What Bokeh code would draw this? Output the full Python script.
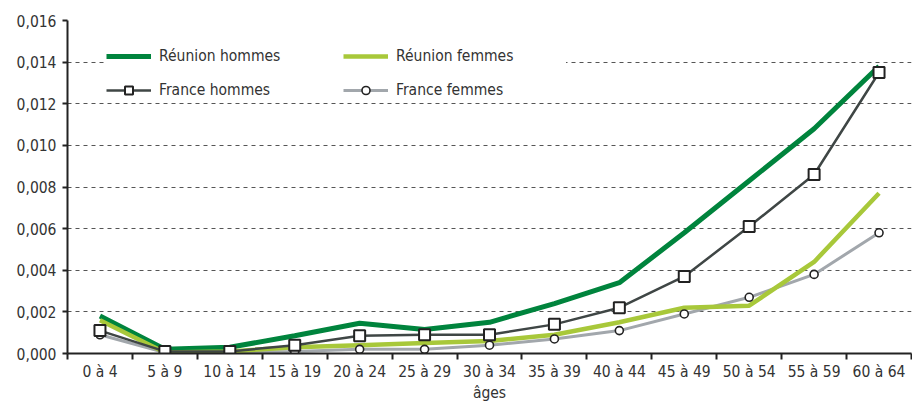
from bokeh.plotting import figure
from bokeh.models import (Range1d, FixedTicker, CustomJSTickFormatter, Legend, LegendItem)
from bokeh.embed import file_html
from bokeh.resources import INLINE
import numpy as np

categories = ["0 à 4", "5 à 9", "10 à 14", "15 à 19", "20 à 24", "25 à 29", "30 à 34",
              "35 à 39", "40 à 44", "45 à 49", "50 à 54", "55 à 59", "60 à 64"]
reunion_hommes = [0.0018, 0.0002, 0.0003, 0.00085, 0.00145, 0.00115, 0.0015,
                  0.0024, 0.0034, 0.0058, 0.0083, 0.0108, 0.0138]
reunion_femmes = [0.0016, 0.00005, 0.0001, 0.0003, 0.0004, 0.0005, 0.0006,
                  0.0009, 0.0015, 0.0022, 0.0023, 0.0044, 0.0077]
france_hommes = [0.0011, 0.0001, 0.0001, 0.0004, 0.00085, 0.0009, 0.0009,
                 0.0014, 0.0022, 0.0037, 0.0061, 0.0086, 0.0135]
france_femmes = [0.0009, 0.00005, 0.00005, 0.0001, 0.0002, 0.0002, 0.0004,
                 0.0007, 0.0011, 0.0019, 0.0027, 0.0038, 0.0058]
y_ticks = [0.0, 0.002, 0.004, 0.006, 0.008, 0.010, 0.012, 0.014, 0.016]

FONT = "'DejaVu Sans Condensed', 'Roboto', sans-serif"
TXT = "#333333"

x = list(np.arange(len(categories)) + 0.5)

p = figure(width=912, height=404, output_backend="svg", toolbar_location=None,
           x_range=Range1d(0, len(categories)), y_range=Range1d(0, 0.016),
           min_border_left=67, min_border_right=1, min_border_top=20, min_border_bottom=51)
p.outline_line_color = None

c_rh = "#00843D"
c_rf = "#A8C83A"
c_fh = "#3F4645"
c_ff = "#A2A7AC"

l_rh = p.line(x, reunion_hommes, line_color=c_rh, line_width=5)
l_ff = p.line(x, france_femmes, line_color=c_ff, line_width=3)
l_rf = p.line(x, reunion_femmes, line_color=c_rf, line_width=4.5)
l_fh = p.line(x, france_hommes, line_color=c_fh, line_width=2.5)
m_ff = p.scatter(x, france_femmes, marker="circle", size=8, fill_color="white",
                 line_color="#222222", line_width=1.6)
m_fh = p.scatter(x, france_hommes, marker="square", size=11, fill_color="white",
                 line_color="#222222", line_width=2)

# axes
p.xaxis.ticker = FixedTicker(ticks=x, minor_ticks=list(range(len(categories) + 1)))
p.xaxis.formatter = CustomJSTickFormatter(args=dict(labels=categories),
                                          code="return labels[Math.floor(tick)];")
p.xaxis.major_tick_line_color = None
p.xaxis.major_tick_out = 0
p.xaxis.major_tick_in = 0
p.xaxis.minor_tick_line_color = "#222222"
p.xaxis.minor_tick_line_width = 2
p.xaxis.minor_tick_out = 6
p.xaxis.minor_tick_in = 0
p.xaxis.axis_line_color = "#222222"
p.xaxis.axis_line_width = 2
p.xaxis.major_label_standoff = 3
p.xaxis.axis_label = "âges"
p.xaxis.axis_label_standoff = 0
p.xaxis.axis_label_text_font_style = "normal"

p.yaxis.ticker = FixedTicker(ticks=y_ticks)
p.yaxis.formatter = CustomJSTickFormatter(code="return tick.toFixed(3).replace('.', ',');")
p.yaxis.minor_tick_line_color = None
p.yaxis.major_tick_line_color = "#222222"
p.yaxis.major_tick_line_width = 2
p.yaxis.major_tick_out = 5
p.yaxis.major_tick_in = 0
p.yaxis.axis_line_color = "#222222"
p.yaxis.axis_line_width = 2
p.yaxis.major_label_standoff = 6

for ax in (p.xaxis[0], p.yaxis[0]):
    ax.major_label_text_font = FONT
    ax.major_label_text_font_size = "15.5px"
    ax.major_label_text_color = TXT
    ax.axis_label_text_font = FONT
    ax.axis_label_text_font_size = "15.5px"
    ax.axis_label_text_color = TXT

p.xgrid.grid_line_color = None
p.ygrid.grid_line_color = "#555555"
p.ygrid.grid_line_dash = "4 4"
p.ygrid.grid_line_width = 1

legend = Legend(items=[
    LegendItem(label="Réunion hommes", renderers=[l_rh]),
    LegendItem(label="France hommes", renderers=[l_fh, m_fh]),
    LegendItem(label="Réunion femmes", renderers=[l_rf]),
    LegendItem(label="France femmes", renderers=[l_ff, m_ff]),
], ncols=2, location=(39, 253))
legend.label_text_font = FONT
legend.label_text_font_size = "15.5px"
legend.label_text_color = TXT
legend.glyph_width = 45
legend.glyph_height = 20
legend.label_width = 170
legend.label_standoff = 8
legend.spacing = 14
legend.padding = 4
legend.margin = 0
legend.border_line_color = None
legend.background_fill_color = "white"
legend.background_fill_alpha = 1.0
p.add_layout(legend, "center")

open("out.html", "w").write(file_html(p, INLINE))
